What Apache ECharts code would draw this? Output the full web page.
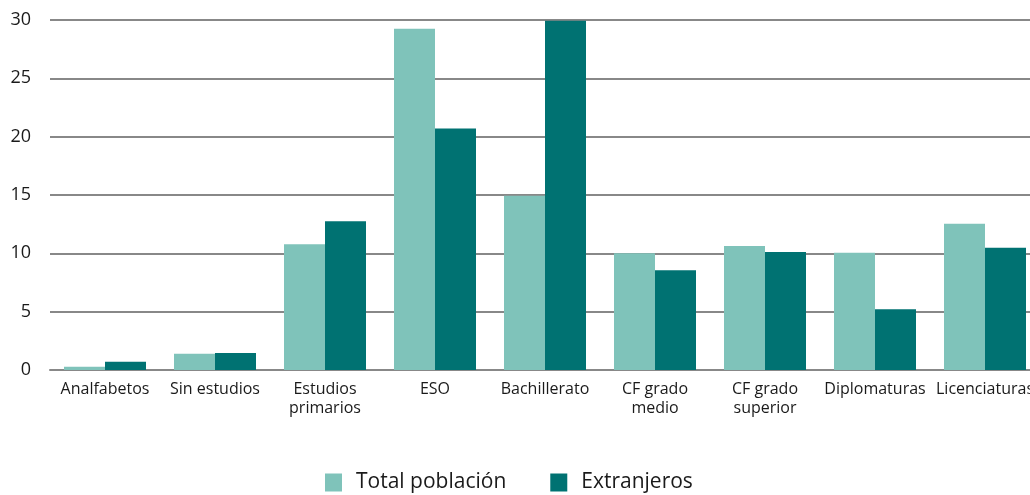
<!DOCTYPE html>
<html><head><meta charset="utf-8">
<script src="https://cdn.jsdelivr.net/npm/echarts@6/dist/echarts.min.js"></script>
<style>html,body{margin:0;padding:0;background:#fff;overflow:hidden;width:1030px;height:495px}#c{width:1040px;height:495px}</style>
</head><body><div id="c"></div>
<script>
var categories = ['Analfabetos','Sin estudios','Estudios\nprimarios','ESO','Bachillerato','CF grado\nmedio','CF grado\nsuperior','Diplomaturas','Licenciaturas'];
var totalPoblacion = [0.28,1.4,10.77,29.25,14.94,10.0,10.63,10.06,12.54];
var extranjeros = [0.71,1.46,12.74,20.71,29.94,8.54,10.11,5.2,10.48];
var yTicks = [0,5,10,15,20,25,30];

var chart = echarts.init(document.getElementById('c'));
chart.setOption({
  animation:false,
  textStyle:{fontFamily:'Open Sans'},
  grid:{left:50,width:990,top:20,height:350,containLabel:false},
  legend:{
    top:472,left:325,padding:0,itemWidth:17,itemHeight:18,itemGap:44,
    icon:'rect',
    textStyle:{fontSize:21,color:'#1a1a1a',fontFamily:'Open Sans',padding:[0,0,0,9]},
    data:['Total población','Extranjeros']
  },
  xAxis:{
    type:'category',data:categories,
    axisLine:{lineStyle:{color:'#888',width:2}},
    axisTick:{show:false},
    axisLabel:{interval:0,fontSize:16,color:'#1a1a1a',lineHeight:19,margin:10}
  },
  yAxis:{
    type:'value',min:yTicks[0],max:yTicks[yTicks.length-1],interval:5,
    axisLine:{show:false},axisTick:{show:false},
    splitLine:{lineStyle:{color:'#888',width:2}},
    axisLabel:{fontSize:18,color:'#1a1a1a',margin:19}
  },
  series:[
    {name:'Total población',type:'bar',data:totalPoblacion,barWidth:41,barGap:'0%',
     itemStyle:{color:'#7fc3ba'}},
    {name:'Extranjeros',type:'bar',data:extranjeros,barWidth:41,barGap:'0%',
     itemStyle:{color:'#007272'}}
  ]
});
</script></body></html>
